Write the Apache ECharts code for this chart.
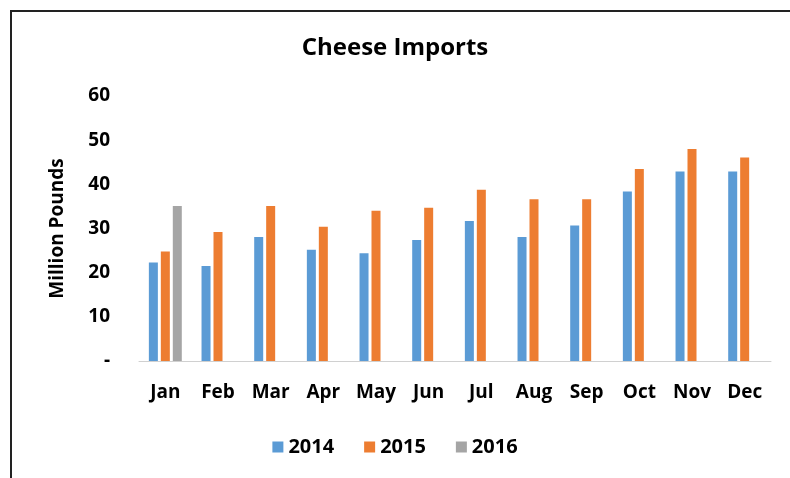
<!DOCTYPE html>
<html>
<head>
<meta charset="utf-8">
<script src="https://cdn.jsdelivr.net/npm/echarts@6/dist/echarts.min.js"></script>
<style>
  html, body { margin: 0; padding: 0; background: #fff; }
  #cheese-chart { width: 790px; height: 478px; }
</style>
</head>
<body>
<div id="cheese-chart"></div>
<script>
const months = ['Jan', 'Feb', 'Mar', 'Apr', 'May', 'Jun', 'Jul', 'Aug', 'Sep', 'Oct', 'Nov', 'Dec'];
const imports2014 = [22.3, 21.5, 28.1, 25.2, 24.4, 27.4, 31.7, 28.1, 30.7, 38.4, 42.9, 42.9];
const imports2015 = [24.8, 29.2, 35.1, 30.4, 34.0, 34.7, 38.8, 36.6, 36.6, 43.5, 48.0, 46.1];
const imports2016 = [35.1, null, null, null, null, null, null, null, null, null, null, null];
const yTicks = { min: 0, max: 60, step: 10 };

const font = '"Open Sans", Lato, sans-serif';

const makeSeries = (name, data, color) => ({
  name: name,
  type: 'bar',
  data: data,
  barWidth: 9,
  barGap: '33%',
  itemStyle: { color: color },
  animation: false
});

const chart = echarts.init(document.getElementById('cheese-chart'));
chart.setOption({
  backgroundColor: '#fff',
  title: {
    text: 'Cheese Imports',
    left: 'center',
    top: 31,
    textStyle: { fontFamily: font, fontSize: 24, fontWeight: 'bold', color: '#000' }
  },
  legend: {
    bottom: 16,
    left: 'center',
    itemWidth: 11,
    itemHeight: 11,
    itemGap: 30,
    icon: 'rect',
    textStyle: { fontFamily: font, fontSize: 20, fontWeight: 'bold', color: '#000', padding: [0, 0, 0, 0] },
    data: ['2014', '2015', '2016']
  },
  grid: { left: 139, right: 19, top: 96, bottom: 117 },
  xAxis: {
    type: 'category',
    data: months,
    axisTick: { show: false },
    axisLine: { lineStyle: { color: '#d0d0d0', width: 1 } },
    axisLabel: { fontFamily: font, fontSize: 19, fontWeight: 'bold', color: '#000', margin: 22 }
  },
  yAxis: {
    type: 'value',
    min: yTicks.min,
    max: yTicks.max,
    interval: yTicks.step,
    name: 'Million Pounds',
    nameLocation: 'middle',
    nameGap: 72,
    nameRotate: 90,
    nameTextStyle: { fontFamily: font, fontSize: 19, fontWeight: 'bold', color: '#000' },
    splitLine: { show: false },
    axisLine: { show: false },
    axisTick: { show: false },
    axisLabel: {
      fontFamily: font, fontSize: 19, fontWeight: 'bold', color: '#000', margin: 29,
      formatter: (v) => (v === 0 ? '-' : String(v))
    }
  },
  series: [
    makeSeries('2014', imports2014, '#5b9bd5'),
    makeSeries('2015', imports2015, '#ed7d31'),
    makeSeries('2016', imports2016, '#a5a5a5')
  ],
  graphic: [
    { type: 'line', shape: { x1: 11, y1: 11, x2: 790, y2: 11 }, style: { stroke: '#222', lineWidth: 2 } },
    { type: 'line', shape: { x1: 11, y1: 10, x2: 11, y2: 478 }, style: { stroke: '#222', lineWidth: 2 } }
  ]
});
</script>
</body>
</html>
